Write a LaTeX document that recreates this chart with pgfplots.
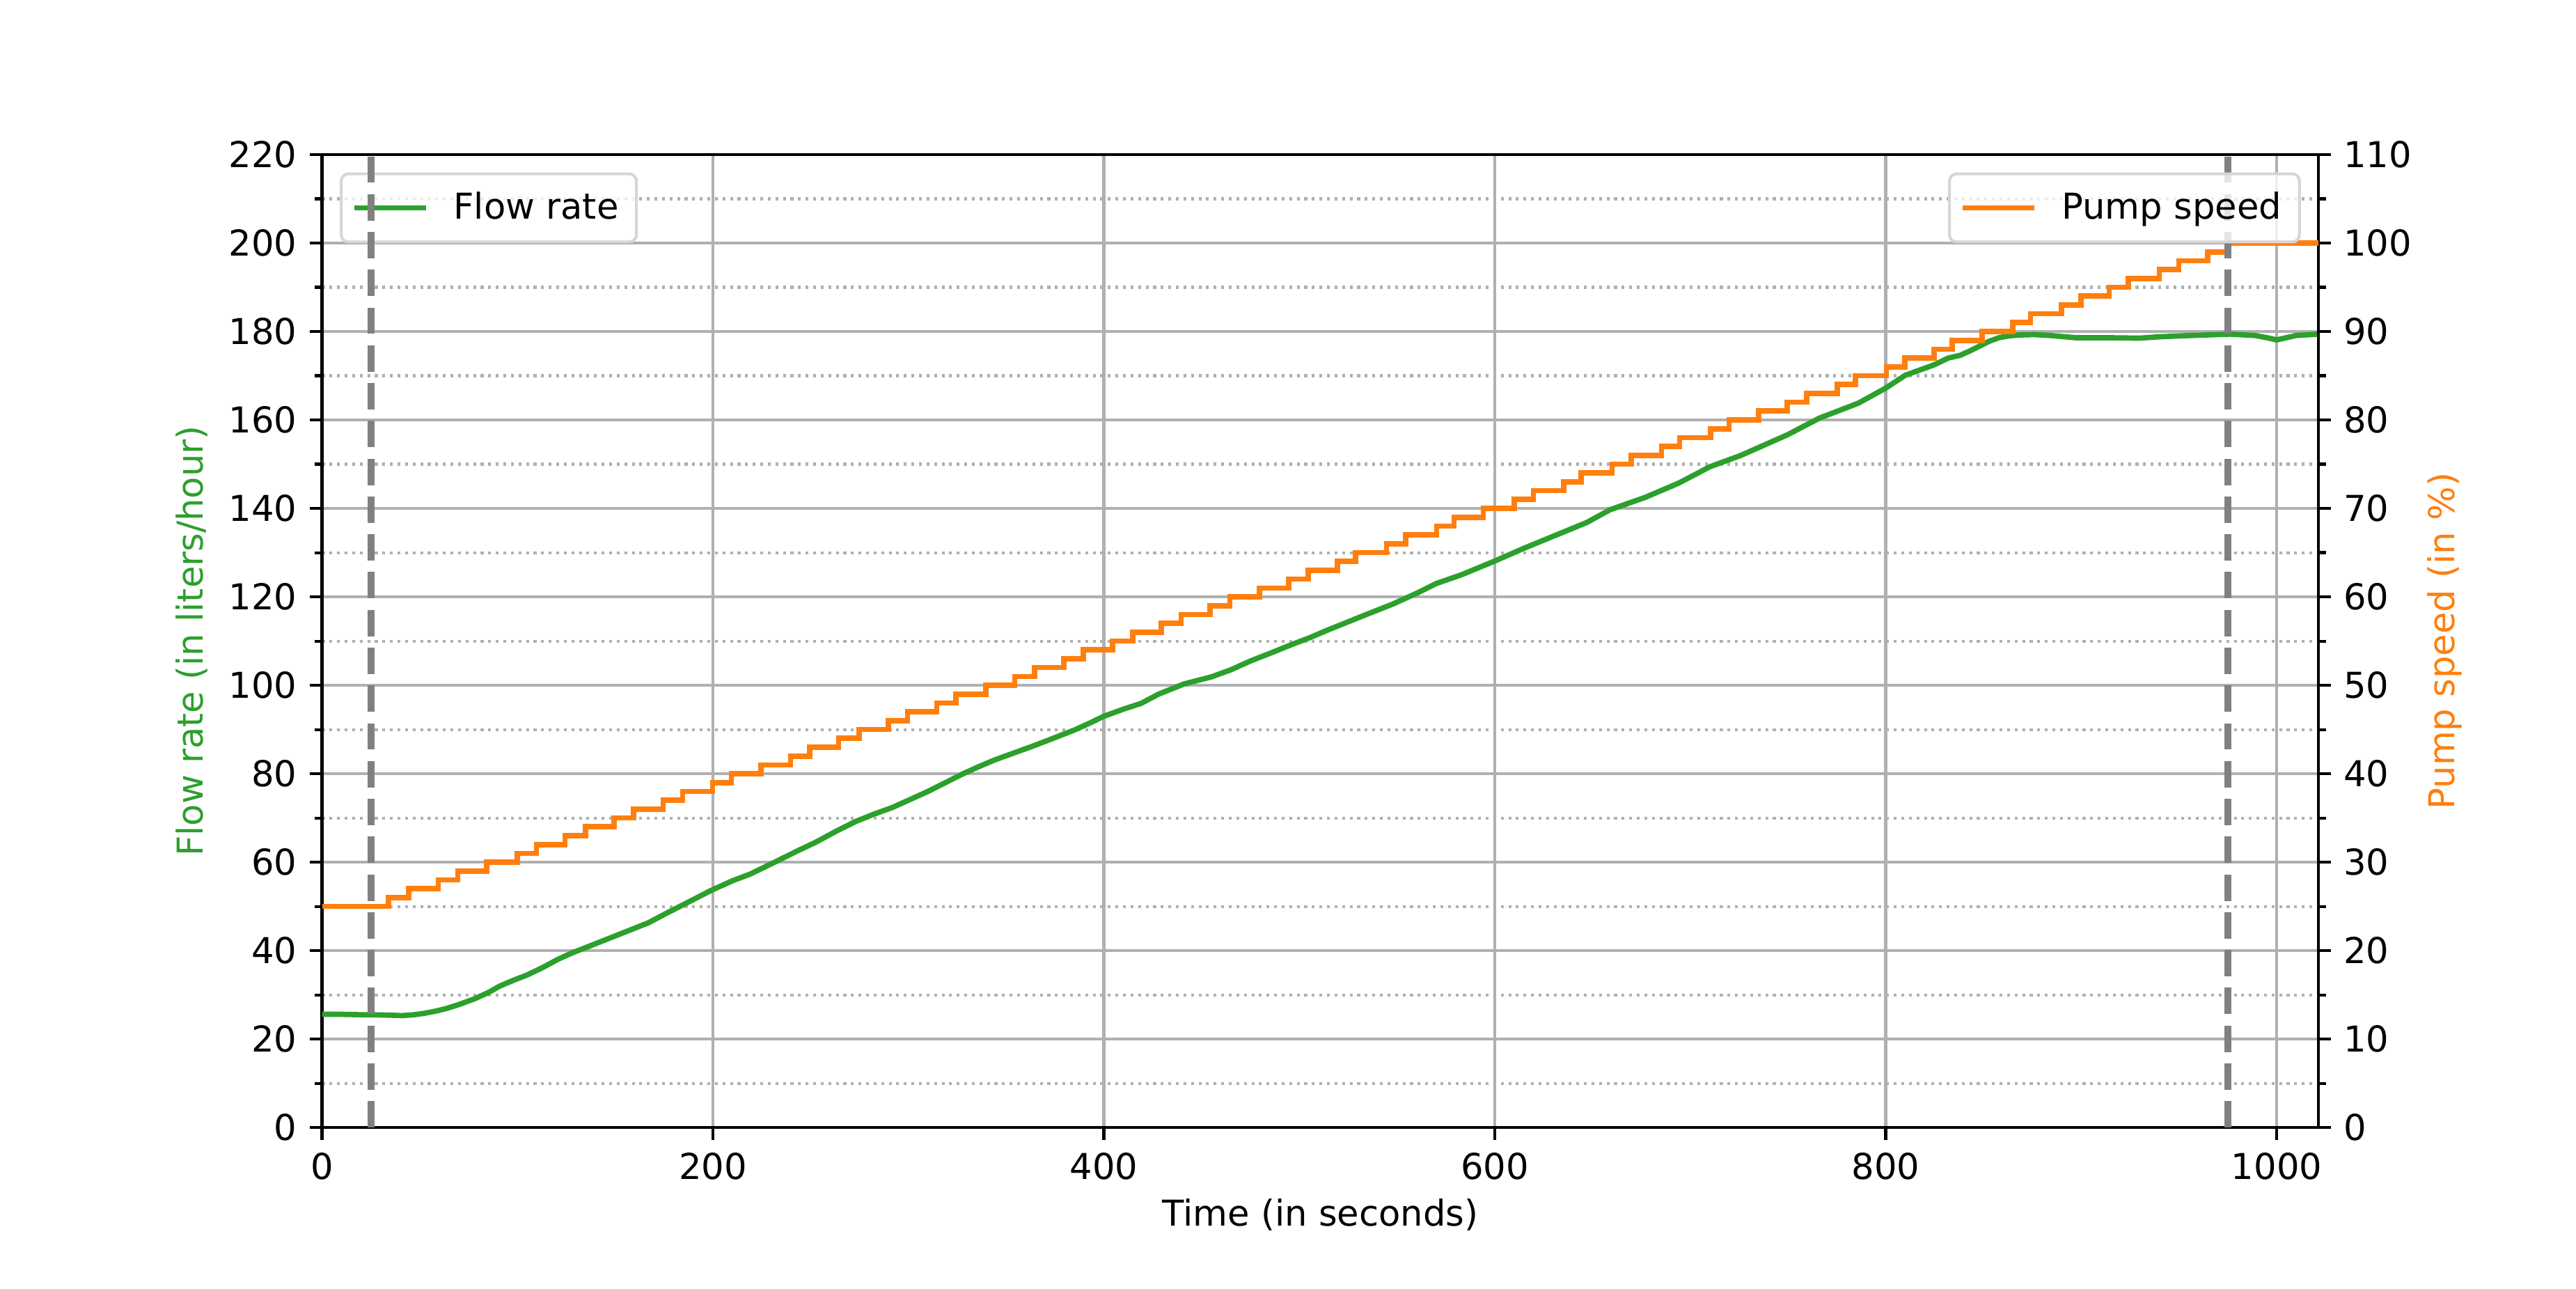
\documentclass[border=0pt]{standalone}
\usepackage{fontspec}
\setmainfont{DejaVu Sans}
\usepackage{pgfplots}
\pgfplotsset{compat=1.18}

\definecolor{flowgreen}{RGB}{44,160,44}
\definecolor{pumporange}{RGB}{255,127,14}
\definecolor{gridgray}{RGB}{176,176,176}
\definecolor{vgray}{RGB}{128,128,128}
\definecolor{legendedge}{RGB}{214,214,214}

\pgfplotsset{
  twin/.style={
    at={(0,0)}, anchor=south west,
    scale only axis, width=7.751in, height=3.776in,
    xmin=0, xmax=1021.5,
    tick align=outside,
    major tick length=3.5pt, minor tick length=2pt,
    every tick/.style={black, line width=0.8pt},
    axis line style={line width=0.8pt},
    /pgf/number format/assume math mode=true,
    /pgf/number format/1000 sep={},
    tick label style={font=\fontsize{10}{12}\selectfont},
    label style={font=\fontsize{10}{12}\selectfont},
    legend image code/.code={\draw[#1] (0pt,0pt) -- (20pt,0pt);},
    legend style={draw=legendedge, line width=0.8pt, rounded corners=2pt,
      fill=white, fill opacity=0.8, text opacity=1,
      inner xsep=3pt, inner ysep=3pt,
      /tikz/every odd column/.append style={column sep=5pt},
      font=\fontsize{10}{12}\selectfont},
    legend cell align=left,
  }
}

\begin{document}
\begin{tikzpicture}
\useasboundingbox (-1.25in,-0.624in) rectangle (8.75in,4.376in);

\begin{axis}[
  twin,
  ymin=0, ymax=220,
  xtick={0,200,...,1000},
  ytick={0,20,...,220},
  minor ytick={10,30,...,210},
  xtick pos=left, ytick pos=left,
  xmajorgrids, ymajorgrids, yminorgrids,
  major grid style={gridgray, line width=0.8pt},
  minor grid style={gridgray, line width=0.8pt, dash pattern=on 0.8pt off 1.32pt},
  xlabel={Time (in seconds)},
  xlabel style={yshift=1.4pt},
  ylabel={Flow rate (in liters/hour)},
  ylabel style={color=flowgreen, yshift=-1pt},
  legend style={at={(0,1)}, anchor=north west, xshift=5pt, yshift=-5pt},
]
\addplot[flowgreen, line width=1.5pt] coordinates {
(0,25.6) (10,25.6) (20,25.5) (25,25.5) (35,25.4) (41,25.3) (47,25.5)
(52,25.8) (58,26.3) (63.5,26.9) (70,27.8) (78,29.1) (85,30.5) (91,32.0)
(98,33.3) (105,34.5) (113,36.2) (121,38.1) (128,39.5) (135,40.7) (143,42.1)
(151,43.5) (159,44.9) (167,46.3) (176,48.4) (188,51.1) (199,53.6) (210,55.8)
(219,57.3) (233,60.3) (243,62.5) (253,64.6) (263,67.0) (273,69.2) (282,70.8)
(292,72.4) (301,74.2) (310,76.0) (319,78.0) (328,80.0) (336,81.6) (344,83.1)
(354,84.7) (364,86.3) (374,88.0) (385,89.9) (393,91.5) (400,93.0) (410,94.6)
(419,95.9) (428,98.0) (441,100.3) (455,101.9) (465,103.5) (475,105.5)
(486,107.4) (496,109.2) (505,110.7) (514,112.4) (523,114.0) (532,115.6)
(540,117.0) (548,118.4) (560,120.8) (570,123.0) (583,125.0) (600,128.1)
(615,131.0) (631,133.9) (647,136.8) (659,139.7) (677,142.5) (694,145.7)
(710,149.4) (726,152.0) (750,156.7) (766,160.4) (786,163.8) (800,167.2)
(810,170.1) (825,172.5) (832,174.0) (838,174.6) (843,175.6) (848,176.7)
(853,177.8) (858,178.6) (863,179.0) (868,179.2) (876,179.3) (884,179.1)
(897,178.6) (912,178.6) (930,178.5) (940,178.8) (950,179.0) (963,179.2)
(976,179.4) (989,179.1) (995,178.6) (1000,178.1) (1005,178.6) (1010,179.1)
(1021.5,179.4)
};
\addlegendentry{Flow rate}
\end{axis}

\begin{axis}[
  twin,
  ymin=0, ymax=110,
  axis x line=none,
  axis y line*=right,
  y axis line style={-},
  ytick={0,10,...,110},
  minor ytick={5,15,...,105},
  ylabel={Pump speed (in \%)},
  ylabel style={color=pumporange, yshift=2.5pt},
  legend style={at={(1,1)}, anchor=north east, xshift=-5pt, yshift=-5pt},
]
\addplot[pumporange, line width=1.5pt, const plot] coordinates {
(0,25) (34.1,26) (44.4,27) (59.5,28) (69.4,29) (84.2,30) (99.8,31) (109.7,32)
(124.3,33) (134.7,34) (149.5,35) (159.4,36) (174.5,37) (184.5,38) (199.8,39)
(209.4,40) (224.5,41) (239.7,42) (249.5,43) (264.3,44) (274.7,45) (289.7,46)
(299.5,47) (314.5,48) (324.4,49) (339.6,50) (354.4,51) (364.6,52) (379.6,53)
(389.6,54) (404.5,55) (414.7,56) (429.5,57) (439.5,58) (454.3,59) (464.5,60)
(479.5,61) (494.5,62) (504.5,63) (519.5,64) (528.8,65) (544.6,66) (554.5,67)
(570.3,68) (579.2,69) (594.1,70) (609.9,71) (619.8,72) (635.3,73) (644.2,74)
(660.0,75) (669.9,76) (685.3,77) (694.6,78) (710.4,79) (719.9,80) (735.1,81)
(749.6,82) (759.5,83) (775.3,84) (784.5,85) (800.3,86) (809.9,87) (824.7,88)
(833.9,89) (849.4,90) (864.9,91) (874.1,92) (889.9,93) (899.8,94) (914.3,95)
(924.2,96) (940.0,97) (949.9,98) (964.7,99) (974.6,100) (1021.5,100)
};
\addlegendentry{Pump speed}
\addplot[vgray, line width=2pt, dash pattern=on 7.4pt off 3.2pt, forget plot]
  coordinates {(25,0) (25,110)};
\addplot[vgray, line width=2pt, dash pattern=on 7.4pt off 3.2pt, forget plot]
  coordinates {(975,0) (975,110)};
\end{axis}
\end{tikzpicture}
\end{document}
